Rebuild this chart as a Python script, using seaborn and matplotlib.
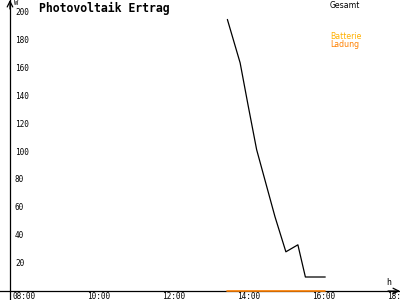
import matplotlib
matplotlib.use("Agg")
import matplotlib.pyplot as plt
import seaborn as sns
import pandas as pd

# ---- data ----
times = [13.65, 13.99, 14.20, 14.43, 14.92, 15.21, 15.53, 15.73, 16.26]
gesamt = [194, 163, 133, 101, 53, 28, 33, 10, 10]
ladung = [0, 0, 0, 0, 0, 0, 0, 0, 0]
y_ticks = [20, 40, 60, 80, 100, 120, 140, 160, 180, 200]
x_ticks = [8, 10, 12, 14, 16, 18]
x_tick_labels = ["08:00", "10:00", "12:00", "14:00", "16:00", "18:00"]
title = "Photovoltaik Ertrag"
legend_labels = ["Gesamt", "Batterie", "Ladung"]

df = pd.DataFrame({"t": times, "Gesamt": gesamt, "Ladung": ladung})

sns.set_style("white")
plt.rcParams["font.family"] = ["DejaVu Sans Mono", "DejaVu Sans"]

fig = plt.figure(figsize=(4, 3), dpi=100)
ax = fig.add_axes([0, 0, 1, 1])

sns.lineplot(data=df, x="t", y="Gesamt", ax=ax, color="black", lw=0.9, zorder=3)
sns.lineplot(data=df, x="t", y="Ladung", ax=ax, color="#ff8000", lw=1.2, zorder=4)

ax.set_xlim(7.587, 18.253)
ax.set_ylim(-6.43, 207.9)
ax.set_xlabel("")
ax.set_ylabel("")

for s in ["top", "right"]:
    ax.spines[s].set_visible(False)
ax.spines["left"].set_position(("data", 7.853))
ax.spines["bottom"].set_position(("data", 0))
for s in ["left", "bottom"]:
    ax.spines[s].set_color("black")
    ax.spines[s].set_linewidth(0.9)

ax.set_xticks(x_ticks)
ax.set_yticks(y_ticks)
ax.tick_params(direction="inout", length=5, width=0.9, color="black",
               labelleft=False, labelbottom=False)

for v in y_ticks:
    ax.annotate(str(v), xy=(7.853, v), xytext=(3.6, -0.7), textcoords="offset points",
                ha="left", va="center", fontsize=5.6, color="black")
for v, lab in zip(x_ticks, x_tick_labels):
    ax.annotate(lab, xy=(v, 0), xytext=(-2.5, -0.9), textcoords="offset points",
                ha="left", va="top", fontsize=5.6, color="black")

# axis arrows
ax.annotate("", xy=(1.0, 0), xycoords=("axes fraction", "data"),
            xytext=(0.97, 0), textcoords=("axes fraction", "data"),
            arrowprops=dict(arrowstyle="->", lw=0.9, color="black", shrinkA=0, shrinkB=0))
ax.annotate("", xy=(7.853, 1.0), xycoords=("data", "axes fraction"),
            xytext=(7.853, 0.97), textcoords=("data", "axes fraction"),
            arrowprops=dict(arrowstyle="->", lw=0.9, color="black", shrinkA=0, shrinkB=0))

fig.text(14 / 400, 1 - 0 / 300, "W", ha="left", va="top", fontsize=5, color="black")
fig.text(386 / 400, 1 - 278 / 300, "h", ha="left", va="top", fontsize=6, color="black")

fig.text(39 / 400, 1 - 1.5 / 300, title, ha="left", va="top", fontsize=8.3,
         fontweight="bold", color="black")

fig.text(330 / 400, 1 - 1 / 300, legend_labels[0], ha="left", va="top",
         fontsize=5.6, color="black", family="DejaVu Sans")
fig.text(330 / 400, 1 - 32 / 300, legend_labels[1], ha="left", va="top",
         fontsize=5.6, color="#ffb000", family="DejaVu Sans")
fig.text(330 / 400, 1 - 40 / 300, legend_labels[2], ha="left", va="top",
         fontsize=5.6, color="#ff8000", family="DejaVu Sans")

fig.savefig("out.png", dpi=100)
